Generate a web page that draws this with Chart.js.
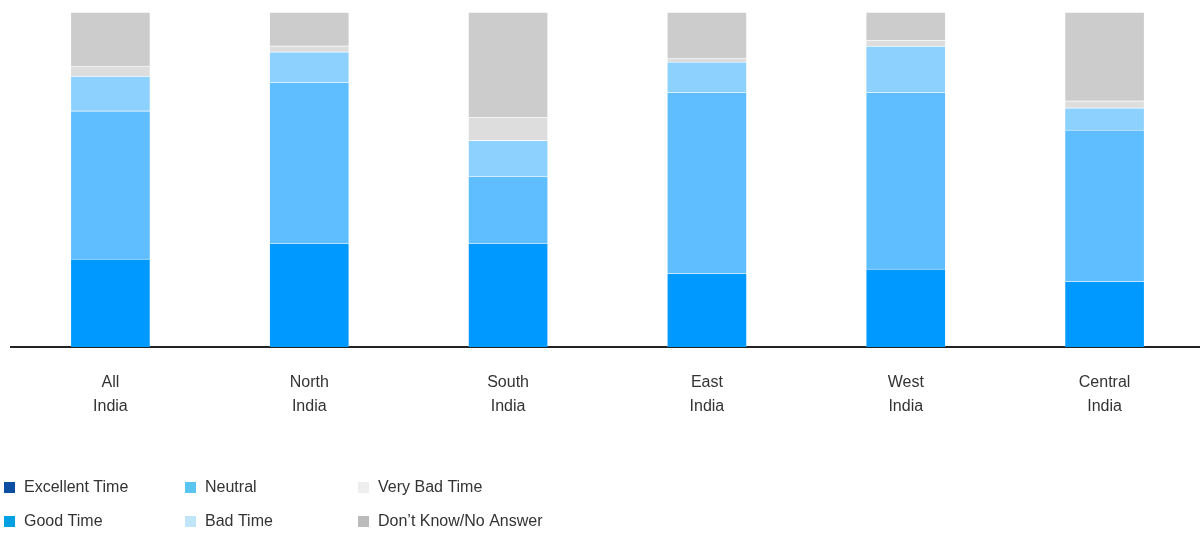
<!DOCTYPE html>
<html>
<head>
<meta charset="utf-8">
<title>Time to buy – regional breakdown</title>
<script src="https://cdn.jsdelivr.net/npm/chart.js@4/dist/chart.umd.min.js"></script>
<style>
  html, body { margin: 0; padding: 0; overflow: hidden; background: #ffffff; }
  #wrap { position: relative; width: 1204px; height: 536px; }
</style>
</head>
<body>
<div id="wrap"><canvas id="chart"></canvas></div>
<script>
// Regions (two-line tick labels)
const regions = [
  ['All', 'India'],
  ['North', 'India'],
  ['South', 'India'],
  ['East', 'India'],
  ['West', 'India'],
  ['Central', 'India']
];

// Share of respondents per answer, in percent (bottom of stack first)
const excellentTime = [0, 0, 0, 0, 0, 0];
const goodTime      = [26.3, 31.0, 31.0, 22.1, 23.3, 19.7];
const neutral       = [44.2, 48.1, 20.0, 54.0, 52.8, 45.1];
const badTime       = [10.4,  9.0, 10.7,  9.0, 13.7,  6.6];
const veryBadTime   = [ 3.0,  1.8,  6.9,  1.2,  1.8,  2.1];
const dontKnow      = [16.1, 10.1, 31.4, 13.7,  8.4, 26.5];

const seriesNames = ['Excellent Time', 'Good Time', 'Neutral', 'Bad Time', 'Very Bad Time', 'Don\u2019t Know/No Answer'];
const barColors    = ['#0B4EA2', '#0099FF', '#5FBEFF', '#8DD1FF', '#DDDDDD', '#CCCCCC'];
const legendColors = ['#0B4EA2', '#00A0E3', '#5BC5F2', '#C0E4F8', '#EEEEEE', '#BBBBBB'];
const seriesData = [excellentTime, goodTime, neutral, badTime, veryBadTime, dontKnow];

Chart.defaults.font.family = '"Liberation Sans", Arial, sans-serif';
Chart.defaults.color = '#333333';

// Legend laid out in three columns, two rows, filled column by column
const gridLegend = {
  id: 'gridLegend',
  afterDraw(chart) {
    const ctx = chart.ctx;
    const colX = [4, 185, 358];
    const rowY = [487.5, 521.5];
    const box = 11;
    ctx.save();
    ctx.font = '16px "Liberation Sans", Arial, sans-serif';
    ctx.textBaseline = 'middle';
    ctx.textAlign = 'left';
    chart.data.datasets.forEach((ds, i) => {
      const x = colX[Math.floor(i / 2)];
      const y = rowY[i % 2];
      ctx.fillStyle = ds.legendColor;
      ctx.fillRect(x, Math.round(y - box / 2), box, box);
      ctx.fillStyle = '#333333';
      ctx.fillText(ds.label, x + 20, y);
    });
    ctx.restore();
  }
};

new Chart(document.getElementById('chart'), {
  type: 'bar',
  data: {
    labels: regions,
    datasets: seriesNames.map((name, i) => ({
      label: name,
      data: seriesData[i],
      backgroundColor: barColors[i],
      legendColor: legendColors[i],
      borderColor: 'rgba(255,255,255,0.15)',
      borderWidth: 1,
      barThickness: 80
    }))
  },
  options: {
    responsive: true,
    maintainAspectRatio: false,
    animation: false,
    layout: { padding: { top: 12, left: 11, right: 0, bottom: 0 } },
    plugins: {
      legend: { display: false },
      tooltip: { enabled: false }
    },
    scales: {
      x: {
        stacked: true,
        z: 1,
        grid: { display: false, drawTicks: false },
        border: { display: true, color: '#222222', width: 2 },
        ticks: {
          padding: 24,
          color: '#333333',
          font: { size: 16, lineHeight: 1.5 }
        },
        afterFit(scale) { scale.height = 189; }
      },
      y: {
        stacked: true,
        display: false,
        min: 0,
        max: 100
      }
    }
  },
  plugins: [gridLegend]
});
</script>
</body>
</html>
